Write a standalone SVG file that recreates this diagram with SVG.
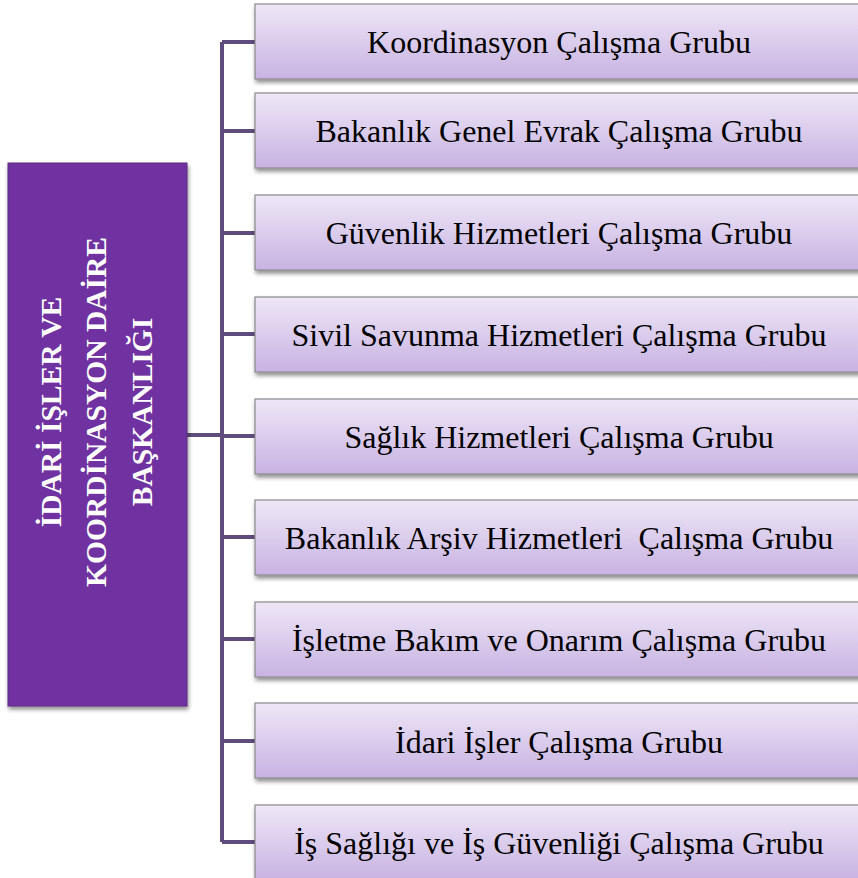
<svg xmlns="http://www.w3.org/2000/svg" width="858" height="878" viewBox="0 0 858 878">
<defs>
<linearGradient id="g" x1="0" y1="0" x2="0" y2="1">
<stop offset="0" stop-color="#eee7f7"/>
<stop offset="1" stop-color="#c8b2e2"/>
</linearGradient>
<filter id="sh" x="-5%" y="-10%" width="110%" height="130%">
<feGaussianBlur in="SourceAlpha" stdDeviation="2"/>
<feOffset dx="1" dy="3" result="b"/>
<feComponentTransfer><feFuncA type="linear" slope="0.45"/></feComponentTransfer>
<feMerge><feMergeNode/><feMergeNode in="SourceGraphic"/></feMerge>
</filter>
</defs>
<style>
.box{fill:url(#g);stroke:#8a8a8a;stroke-width:1.2;filter:url(#sh)}
.t{font-family:"Liberation Serif","Times New Roman",serif;font-size:32px;fill:#000;text-anchor:middle}
.h{font-family:"Liberation Serif","Times New Roman",serif;font-size:29.5px;font-weight:bold;fill:#fff;text-anchor:middle}
.c{fill:none;stroke:#5f4b7c;stroke-width:4}
</style>
<g id="connectors">
<path class="c" d="M187 435 H222 M222 42 V842 M222 42 H255 M222 131 H255 M222 233 H255 M222 334 H255 M222 436 H255 M222 537 H255 M222 639 H255 M222 741 H255 M222 842 H255"/>
</g>
<g id="root">
<rect x="8" y="163" width="179" height="543" fill="#7030a0" stroke="#5a2a80" stroke-width="1" filter="url(#sh)"/>
<g transform="translate(97,412) rotate(-90)">
<text class="h" x="0" y="-36">İDARİ İŞLER VE</text>
<text class="h" x="0" y="9">KOORDİNASYON DAİRE</text>
<text class="h" x="0" y="55">BAŞKANLIĞI</text>
</g>
</g>
<g id="n1"><rect class="box" x="255" y="4" width="610" height="75"/><text class="t" x="559" y="53">Koordinasyon Çalışma Grubu</text></g>
<g id="n2"><rect class="box" x="255" y="93" width="610" height="75"/><text class="t" x="559" y="142">Bakanlık Genel Evrak Çalışma Grubu</text></g>
<g id="n3"><rect class="box" x="255" y="195" width="610" height="75"/><text class="t" x="559" y="244">Güvenlik Hizmetleri Çalışma Grubu</text></g>
<g id="n4"><rect class="box" x="255" y="297" width="610" height="75"/><text class="t" x="559" y="346">Sivil Savunma Hizmetleri Çalışma Grubu</text></g>
<g id="n5"><rect class="box" x="255" y="399" width="610" height="75"/><text class="t" x="559" y="448">Sağlık Hizmetleri Çalışma Grubu</text></g>
<g id="n6"><rect class="box" x="255" y="500" width="610" height="75"/><text class="t" x="559" y="549" xml:space="preserve">Bakanlık Arşiv Hizmetleri  Çalışma Grubu</text></g>
<g id="n7"><rect class="box" x="255" y="602" width="610" height="75"/><text class="t" x="559" y="651">İşletme Bakım ve Onarım Çalışma Grubu</text></g>
<g id="n8"><rect class="box" x="255" y="703" width="610" height="75"/><text class="t" x="559" y="753">İdari İşler Çalışma Grubu</text></g>
<g id="n9"><rect class="box" x="255" y="805" width="610" height="75"/><text class="t" x="559" y="854">İş Sağlığı ve İş Güvenliği Çalışma Grubu</text></g>
</svg>
